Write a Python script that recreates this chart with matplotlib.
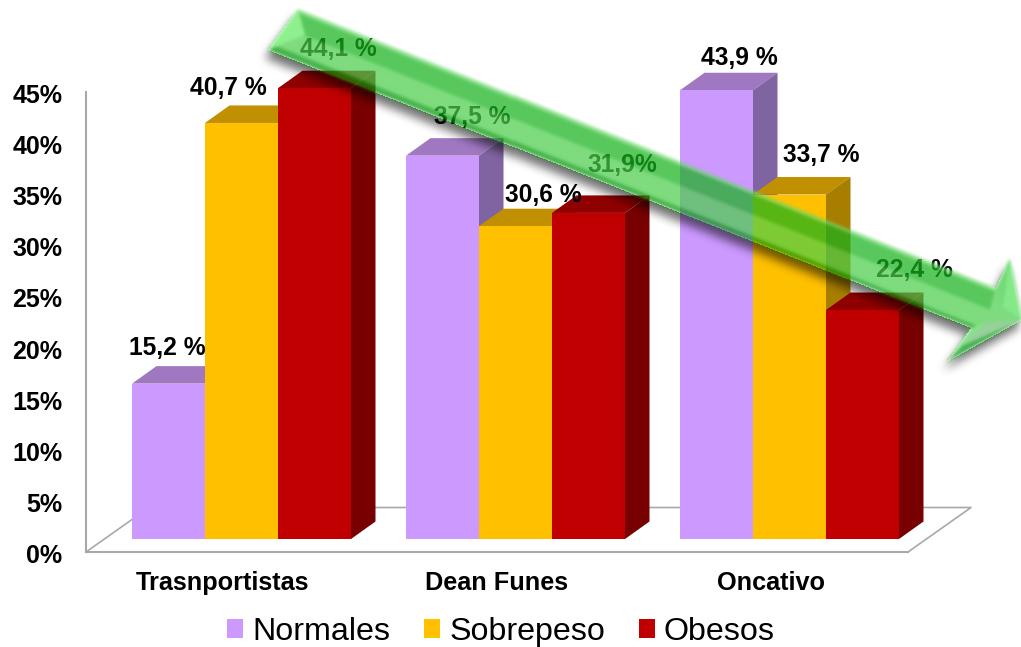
"""Prevalence by group as a faux-3D column chart with a translucent trend arrow."""

import numpy as np
import matplotlib

matplotlib.use("Agg")
import matplotlib.pyplot as plt
from matplotlib.patches import Polygon
from matplotlib.path import Path
from matplotlib.transforms import ScaledTranslation

categories = ["Trasnportistas", "Dean Funes", "Oncativo"]
series_names = ["Normales", "Sobrepeso", "Obesos"]
normales = [15.2, 37.5, 43.9]
sobrepeso = [40.7, 30.6, 33.7]
obesos = [44.1, 31.9, 22.4]
normales_labels = ["15,2 %", "37,5 %", "43,9 %"]
sobrepeso_labels = ["40,7 %", "30,6 %", "33,7 %"]
obesos_labels = ["44,1 %", "31,9%", "22,4 %"]
y_ticks = [0, 5, 10, 15, 20, 25, 30, 35, 40, 45]

W, H = 1021, 647
FONT = "Liberation Sans"
GREY = "#a8a8a8"

# one unit on each axis, in pixels
PX_X = 274.0
PX_Y = 460.0 / 45.0
BAR_W = 73.0 / PX_X
DEPTH_X = 24.5 / PX_X
DEPTH_Y = 17.5 / PX_Y
SHIFT_X = 18.5 / PX_X
SHIFT_Y = 13.0 / PX_Y
FLOOR_X = 63.0 / PX_X
FLOOR_Y = 44.5 / PX_Y

# front, top and side face colours per series
faces = [
    ("#cc99ff", "#a078c2", "#8064a2"),
    ("#ffc000", "#c09000", "#a87e00"),
    ("#c00000", "#900000", "#780000"),
]
# hand placement of the value labels, pixels from the bar's back top edge
nudges = [
    [(-1.5, 18.5), (29.5, 21.5), (22.5, 14.5)],
    [(-13, 17.5), (28, 14), (31.5, 22.5)],
    [(24, 21.5), (33.5, 30), (51.5, 23)],
]

fig = plt.figure(figsize=(W / 100, H / 100), dpi=100, facecolor="white")
ax = fig.add_axes([86 / W, 1 - 552 / H, 822 / W, 460 / H])
ax.set_xlim(-0.5, 2.5)
ax.set_ylim(0, 45)
ax.patch.set_alpha(0)

for name in ["top", "right"]:
    ax.spines[name].set_visible(False)
for name in ["left", "bottom"]:
    ax.spines[name].set_color(GREY)
    ax.spines[name].set_linewidth(1.5)

ax.set_yticks(y_ticks)
ax.set_yticklabels([f"{t}%" for t in y_ticks], family=FONT, fontweight="bold", fontsize=18)
ax.set_xticks(range(len(categories)))
ax.set_xticklabels(categories, family=FONT, fontweight="bold", fontsize=18.2)
ax.tick_params(axis="y", length=0, pad=17)
ax.tick_params(axis="x", length=0, pad=14)
nudge_down = ScaledTranslation(0, -1.5 / 100, fig.dpi_scale_trans)
for label in ax.get_yticklabels():
    label.set_transform(label.get_transform() + nudge_down)

# floor outline behind the columns
ax.plot(
    [-0.5, -0.5 + FLOOR_X, 2.5 + FLOOR_X, 2.5],
    [0, FLOOR_Y, FLOOR_Y, 0],
    color=GREY, lw=1.2, clip_on=False, zorder=1,
)

x = np.arange(len(categories)) + SHIFT_X
all_values = [normales, sobrepeso, obesos]
all_labels = [normales_labels, sobrepeso_labels, obesos_labels]

for k, (values, labels, name) in enumerate(zip(all_values, all_labels, series_names)):
    front, top, side = faces[k]
    xs = x + (k - 1) * BAR_W
    z = 3 + k
    ax.bar(xs, values, BAR_W, bottom=SHIFT_Y, color=front, label=name, zorder=z + 0.5, clip_on=False)
    for xc, v, text, (nx, ny) in zip(xs, values, labels, nudges[k]):
        left, right = xc - BAR_W / 2, xc + BAR_W / 2
        low, high = SHIFT_Y, SHIFT_Y + v
        ax.add_patch(Polygon(
            [(left, high), (right, high), (right + DEPTH_X, high + DEPTH_Y), (left + DEPTH_X, high + DEPTH_Y)],
            facecolor=top, edgecolor="none", zorder=z, clip_on=False,
        ))
        ax.add_patch(Polygon(
            [(right, low), (right + DEPTH_X, low + DEPTH_Y), (right + DEPTH_X, high + DEPTH_Y), (right, high)],
            facecolor=side, edgecolor="none", zorder=z, clip_on=False,
        ))
        ax.annotate(
            text, xy=(xc, high + DEPTH_Y), xytext=(nx, ny), textcoords="offset pixels",
            ha="center", va="center", family=FONT, fontweight="bold", fontsize=17.7,
            zorder=10, annotation_clip=False,
        )

fig.legend(
    *ax.get_legend_handles_labels(),
    loc="center", bbox_to_anchor=(501 / W, 1 - 632 / H), ncol=3, frameon=False,
    prop={"family": FONT, "size": 23.2}, handlelength=0.5, handleheight=0.5,
    handletextpad=0.28, columnspacing=1.05, borderpad=0, borderaxespad=0,
)


def soften(layer, radius):
    """Three box-blur passes along both image axes."""
    kernel = np.ones(2 * radius + 1) / (2 * radius + 1)
    out = layer.astype(float)
    for _ in range(3):
        out = np.apply_along_axis(np.convolve, 0, out, kernel, mode="same")
        out = np.apply_along_axis(np.convolve, 1, out, kernel, mode="same")
    return out


# trend arrow, worked out on the pixel grid so it can be shaded and softened
grid_x, grid_y = np.meshgrid(np.arange(W) + 0.5, np.arange(H) + 0.5)
grid = np.column_stack([grid_x.ravel(), grid_y.ravel()])


def inside(points):
    return Path(points).contains_points(grid).reshape(H, W)


tail_a, tail_b = (298, 9), (268, 50)
shaft_end_top, shaft_end_low = (995, 288), (970, 328)
barb_top, notch, tip, barb_low = (1009, 258), (1002, 307), (1021, 320), (946, 362)
ridge = (963, 345)

outline = inside([tail_a, shaft_end_top, barb_top, tip, barb_low, shaft_end_low, tail_b])

# colour bands across the shaft width
normal = np.array([-279.0, 697.0]) / np.hypot(279.0, 697.0)
across = ((grid_x - tail_a[0]) * normal[0] + (grid_y - tail_a[1]) * normal[1]) / 49.2
stops = [0.0, 0.05, 0.09, 0.43, 0.47, 0.84, 0.89, 1.0]
shaft_r = [110, 110, 23, 23, 75, 75, 0, 0]
shaft_g = [220, 220, 179, 179, 207, 207, 150, 150]
shaft_b = [110, 110, 29, 29, 75, 75, 5, 5]
rgb = np.dstack([
    np.interp(across, stops, shaft_r),
    np.interp(across, stops, shaft_g),
    np.interp(across, stops, shaft_b),
])

# flat facets of the tail bevel and the head
facets = [
    ([tail_a, tail_b, (305, 35)], (100, 235, 100)),
    ([shaft_end_top, barb_top, notch], (60, 205, 65)),
    ([barb_top, tip, notch], (85, 225, 90)),
    ([shaft_end_top, notch, tip, (985, 322)], (75, 207, 75)),
    ([shaft_end_low, barb_low, ridge, (985, 322)], (90, 215, 95)),
    ([ridge, (985, 322), tip], (110, 190, 115)),
    ([barb_low, ridge, tip], (0, 150, 15)),
]
for points, colour in facets:
    rgb[inside(points)] = colour

alpha = soften(outline, 1) * 0.72
rgb = np.dstack([soften(rgb[:, :, i] * outline, 1) for i in range(3)]) / np.maximum(soften(outline, 1), 1e-3)[..., None]
arrow_layer = np.dstack([np.clip(rgb / 255.0, 0, 1), alpha])

shadow = soften(np.roll(np.roll(outline, 8, axis=0), -3, axis=1), 4)
shadow_layer = np.zeros((H, W, 4))
shadow_layer[:, :, 3] = shadow * 0.55 * (1 - outline)

overlay = fig.add_axes([0, 0, 1, 1], zorder=5)
overlay.set_axis_off()
overlay.patch.set_alpha(0)
overlay.imshow(shadow_layer, extent=(0, W, H, 0), aspect="auto", interpolation="nearest")
overlay.imshow(arrow_layer, extent=(0, W, H, 0), aspect="auto", interpolation="nearest")

fig.savefig("out.png", dpi=100)
plt.close(fig)
